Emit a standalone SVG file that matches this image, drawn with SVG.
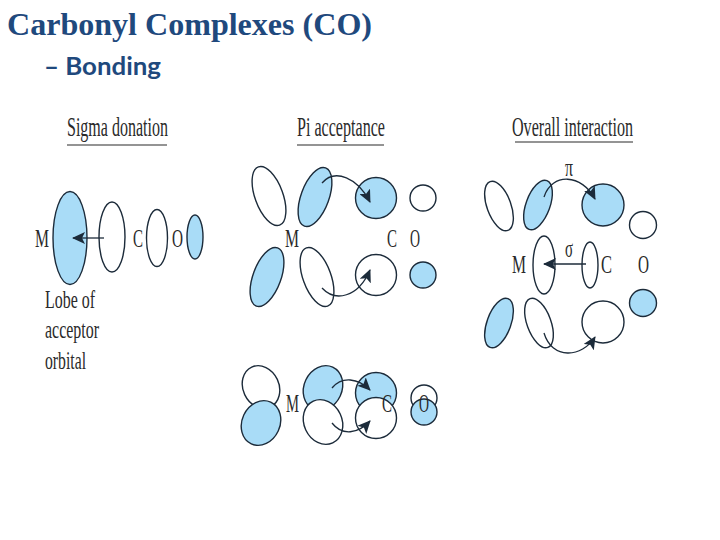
<svg xmlns="http://www.w3.org/2000/svg" width="720" height="540" viewBox="0 0 720 540">
<style>
.b{fill:#a9dcf7;stroke:#1c2b3a;stroke-width:1.4}
.w{fill:#fff;stroke:#1c2b3a;stroke-width:1.4}
.t{font-family:"Liberation Serif",serif;font-size:27px;fill:#2a2a2a}
.l{font-family:"Liberation Serif",serif;font-size:25px;fill:#2a2a2a}
.a{fill:none;stroke:#1c2b3a;stroke-width:1.3}
.u{stroke:#2a2a2a;stroke-width:1.2}
</style>
<defs><marker id="h" markerWidth="14" markerHeight="12" refX="12" refY="6" orient="auto" markerUnits="userSpaceOnUse"><path d="M0 0L13 6L0 12L3 6Z" fill="#1c2b3a"/></marker></defs>
<rect width="720" height="540" fill="#fff"/>
<text x="7" y="35" textLength="365" lengthAdjust="spacingAndGlyphs" style="font-family:'Liberation Serif',serif;font-weight:700;font-size:31px;fill:#1f497d">Carbonyl Complexes (CO)</text>
<text x="44" y="75" textLength="117" lengthAdjust="spacingAndGlyphs" style="font-family:Lato,sans-serif;font-size:24px;font-weight:700;fill:#1f497d">– Bonding</text>

<g id="sigma">
<text class="t" x="67" y="136" textLength="101" lengthAdjust="spacingAndGlyphs">Sigma donation</text>
<line class="u" x1="67" y1="145" x2="167" y2="145"/>
<ellipse class="b" cx="70" cy="238" rx="17" ry="46.5"/>
<ellipse class="w" cx="112" cy="237" rx="13" ry="35"/>
<ellipse class="w" cx="157" cy="238" rx="10.5" ry="28.5"/>
<ellipse class="b" cx="195" cy="237" rx="8" ry="22"/>
<text class="l" x="35" y="247" textLength="14" lengthAdjust="spacingAndGlyphs">M</text>
<text class="l" x="133" y="247" textLength="10" lengthAdjust="spacingAndGlyphs">C</text>
<text class="l" x="172" y="247" textLength="11" lengthAdjust="spacingAndGlyphs">O</text>
<text class="l" x="45" y="308" textLength="50" lengthAdjust="spacingAndGlyphs">Lobe of</text>
<text class="l" x="45" y="338" textLength="54" lengthAdjust="spacingAndGlyphs">acceptor</text>
<text class="l" x="45" y="369" textLength="41" lengthAdjust="spacingAndGlyphs">orbital</text>
</g>

<g id="pi">
<text class="t" x="297" y="136" textLength="88" lengthAdjust="spacingAndGlyphs">Pi acceptance</text>
<line class="u" x1="297" y1="145" x2="384" y2="145"/>
<ellipse class="w" cx="269" cy="196" rx="14" ry="31" transform="rotate(-20 269 196)"/>
<ellipse class="b" cx="315" cy="197" rx="14" ry="31" transform="rotate(20 315 197)"/>
<circle class="b" cx="376" cy="198" r="20.5"/>
<circle class="w" cx="423" cy="198" r="13"/>
<ellipse class="b" cx="267" cy="277" rx="14" ry="31" transform="rotate(20 267 277)"/>
<ellipse class="w" cx="317" cy="277" rx="14" ry="31" transform="rotate(-20 317 277)"/>
<circle class="w" cx="376" cy="275" r="20.5"/>
<circle class="b" cx="423" cy="275" r="13"/>
<text class="l" x="285" y="247" textLength="14" lengthAdjust="spacingAndGlyphs">M</text>
<text class="l" x="387" y="247" textLength="10" lengthAdjust="spacingAndGlyphs">C</text>
<text class="l" x="410" y="247" textLength="10" lengthAdjust="spacingAndGlyphs">O</text>
</g>

<g id="overall">
<text class="t" x="512" y="136" textLength="121" lengthAdjust="spacingAndGlyphs">Overall interaction</text>
<line class="u" x1="515" y1="142" x2="633" y2="142"/>
<ellipse class="w" cx="499" cy="206" rx="12" ry="26" transform="rotate(-20 499 206)"/>
<ellipse class="b" cx="538" cy="205" rx="12" ry="26" transform="rotate(20 538 205)"/>
<circle class="b" cx="603" cy="205" r="21"/>
<circle class="w" cx="643" cy="225" r="13.5"/>
<ellipse class="w" cx="544" cy="265" rx="11" ry="29"/>
<ellipse class="w" cx="590" cy="265" rx="8" ry="23"/>
<circle class="b" cx="643" cy="303" r="13.5"/>
<ellipse class="b" cx="499" cy="323" rx="12" ry="26" transform="rotate(20 499 323)"/>
<ellipse class="w" cx="539" cy="323" rx="12" ry="26" transform="rotate(-20 539 323)"/>
<circle class="w" cx="603" cy="322" r="21"/>
<text class="l" x="512" y="273" textLength="14" lengthAdjust="spacingAndGlyphs">M</text>
<text class="l" x="601" y="273" textLength="11" lengthAdjust="spacingAndGlyphs">C</text>
<text class="l" x="638" y="273" textLength="11" lengthAdjust="spacingAndGlyphs">O</text>
<text class="l" x="565" y="176" textLength="8" lengthAdjust="spacingAndGlyphs">π</text>
<text class="l" x="565" y="257" textLength="8" lengthAdjust="spacingAndGlyphs">σ</text>
</g>

<g id="combined">
<ellipse class="w" cx="261" cy="387" rx="18" ry="22" transform="rotate(-25 261 387)"/>
<ellipse class="b" cx="261" cy="423" rx="19" ry="23" transform="rotate(25 261 423)"/>
<ellipse class="b" cx="323" cy="388" rx="19" ry="23" transform="rotate(25 323 388)"/>
<ellipse class="w" cx="323" cy="422" rx="19" ry="23" transform="rotate(-25 323 422)"/>
<circle class="b" cx="376" cy="393" r="20.5"/>
<circle class="w" cx="376" cy="418" r="20.5"/>
<circle class="w" cx="424" cy="398" r="13"/>
<circle class="b" cx="424" cy="412" r="13"/>
<text class="l" x="286" y="412" textLength="13" lengthAdjust="spacingAndGlyphs">M</text>
<text class="l" x="382" y="412" textLength="10" lengthAdjust="spacingAndGlyphs">C</text>
<text class="l" x="419" y="412" textLength="10" lengthAdjust="spacingAndGlyphs">O</text>
</g>

<g id="connectors">
<path class="a" marker-end="url(#h)" d="M104 238H73"/>
<path class="a" marker-end="url(#h)" d="M322 183C335 168 358 178 370 202"/>
<path class="a" marker-end="url(#h)" d="M322 288C335 302 358 298 370 270"/>
<path class="a" marker-end="url(#h)" d="M544 197C552 172 582 174 595 199"/>
<path class="a" marker-end="url(#h)" d="M544 333C552 360 582 358 595 337"/>
<path class="a" marker-end="url(#h)" d="M586 264H544"/>
<path class="a" marker-end="url(#h)" d="M332 388C342 376 358 378 370 390"/>
<path class="a" marker-end="url(#h)" d="M332 423C342 436 358 434 370 421"/>
</g>
</svg>
